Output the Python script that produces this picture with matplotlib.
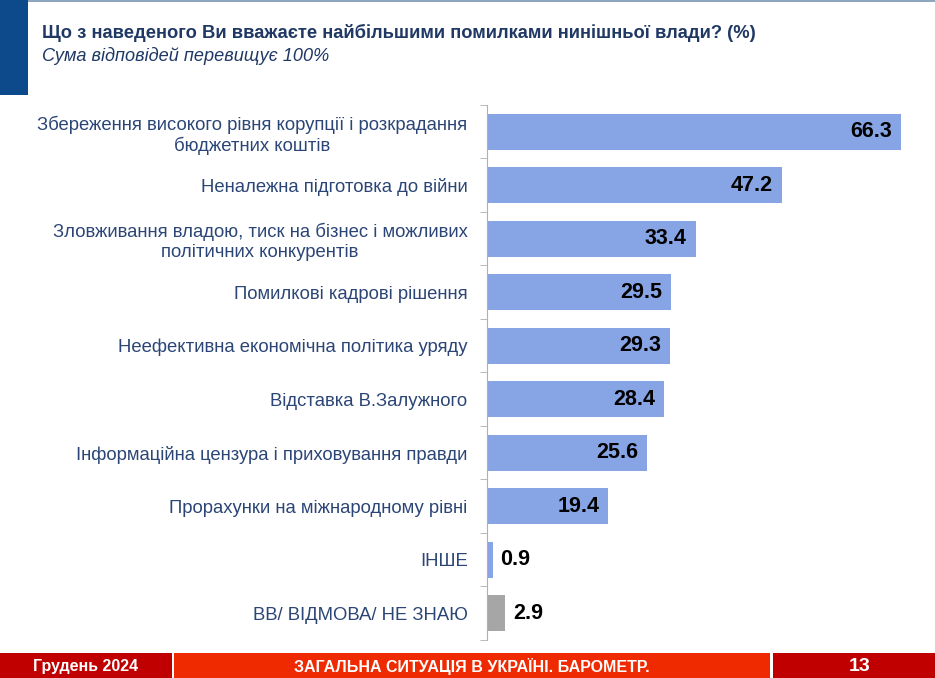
import numpy as np
import matplotlib.pyplot as plt
from matplotlib.patches import Rectangle
from matplotlib.transforms import offset_copy

categories = [
    'Збереження високого рівня корупції і розкрадання\nбюджетних коштів',
    'Неналежна підготовка до війни',
    'Зловживання владою, тиск на бізнес і можливих\nполітичних конкурентів',
    'Помилкові кадрові рішення',
    'Неефективна економічна політика уряду',
    'Відставка В.Залужного',
    'Інформаційна цензура і приховування правди',
    'Прорахунки на міжнародному рівні',
    'ІНШЕ',
    'ВВ/ ВІДМОВА/ НЕ ЗНАЮ',
]
values = [66.3, 47.2, 33.4, 29.5, 29.3, 28.4, 25.6, 19.4, 0.9, 2.9]
labels = ['66.3', '47.2', '33.4', '29.5', '29.3', '28.4', '25.6', '19.4', '0.9', '2.9']

title = 'Що з наведеного Ви вважаєте найбільшими помилками нинішньої влади? (%)'
subtitle = 'Сума відповідей перевищує 100%'
footer_left = 'Грудень 2024'
footer_mid = 'ЗАГАЛЬНА СИТУАЦІЯ В УКРАЇНІ. БАРОМЕТР.'
footer_right = '13'

plt.rcParams['font.family'] = ['Liberation Sans', 'DejaVu Sans']

W, H = 935, 678
fig = plt.figure(figsize=(W / 100, H / 100), dpi=100)
fig.patch.set_facecolor('white')

navy = '#1f3864'
label_col = '#2b4576'
bar_blue = '#87a4e4'
bar_gray = '#a6a6a6'

# header decoration
fig.patches.append(Rectangle((0, 1 - 95 / H), 28 / W, 95 / H, transform=fig.transFigure,
                             facecolor='#0d4a8c', edgecolor='none'))
fig.patches.append(Rectangle((28 / W, 1 - 2 / H), 1, 2 / H, transform=fig.transFigure,
                             facecolor='#8fa6bf', edgecolor='none'))
fig.text(42 / W, 1 - 33 / H, title, fontsize=13.2, fontweight='bold', color=navy, va='center')
fig.text(42 / W, 1 - 56 / H, subtitle, fontsize=13.1, fontstyle='italic', color=navy, va='center')

# chart
x0, y_top, y_bot = 487, 105, 640
scale = (901 - x0) / 66.3
xmax = 70
ax = fig.add_axes([x0 / W, 1 - y_bot / H, xmax * scale / W, (y_bot - y_top) / H])
n = len(categories)
y = np.arange(n)
colors = [bar_blue] * (n - 1) + [bar_gray]
ax.barh(y, values, height=0.67, color=colors)
ax.set_xlim(0, xmax)
ax.set_ylim(n - 0.5, -0.5)
ax.set_xticks([])
ax.set_yticks(y)
ax.set_yticklabels(categories, fontsize=13.3, color=label_col, ha='right',
                   multialignment='center', linespacing=1.2)
ax.tick_params(axis='y', length=0, pad=14)
ax.set_yticks(np.arange(n + 1) - 0.5, minor=True)
ax.tick_params(axis='y', which='minor', length=5, color='#b0b0b0', direction='out')
for s in ['top', 'right', 'bottom']:
    ax.spines[s].set_visible(False)
ax.spines['left'].set_color('#b0b0b0')

inside = offset_copy(ax.transData, fig=fig, x=-9, y=0, units='dots')
outside = offset_copy(ax.transData, fig=fig, x=8, y=0, units='dots')
for i, (v, lab) in enumerate(zip(values, labels)):
    if v > 10:
        ax.text(v, i, lab, ha='right', va='center', fontsize=15.5, fontweight='bold',
                color='black', transform=inside)
    else:
        ax.text(v, i, lab, ha='left', va='center', fontsize=15.5, fontweight='bold',
                color='black', transform=outside)

# footer
fy = 653
fh = H - fy
fig.patches.append(Rectangle((0, 0), 172 / W, fh / H, transform=fig.transFigure,
                             facecolor='#c00000', edgecolor='none'))
fig.patches.append(Rectangle((174 / W, 0), (770 - 174) / W, fh / H, transform=fig.transFigure,
                             facecolor='#f02a00', edgecolor='none'))
fig.patches.append(Rectangle((773 / W, 0), (W - 773) / W, fh / H, transform=fig.transFigure,
                             facecolor='#c00000', edgecolor='none'))
fcenter = 1 - (fy + fh / 2 + 1) / H
narrow = ['Liberation Sans Narrow', 'Liberation Sans']
fig.text(86 / W, fcenter, footer_left, fontsize=11.5, fontweight='bold', color='white',
         ha='center', va='center', family=narrow)
fig.text(472 / W, fcenter, footer_mid, fontsize=11.5, fontweight='bold', color='white',
         ha='center', va='center', family=narrow)
fig.text(860 / W, fcenter, footer_right, fontsize=14, fontweight='bold', color='white',
         ha='center', va='center', family=narrow)

fig.savefig('out.png', dpi=100)
